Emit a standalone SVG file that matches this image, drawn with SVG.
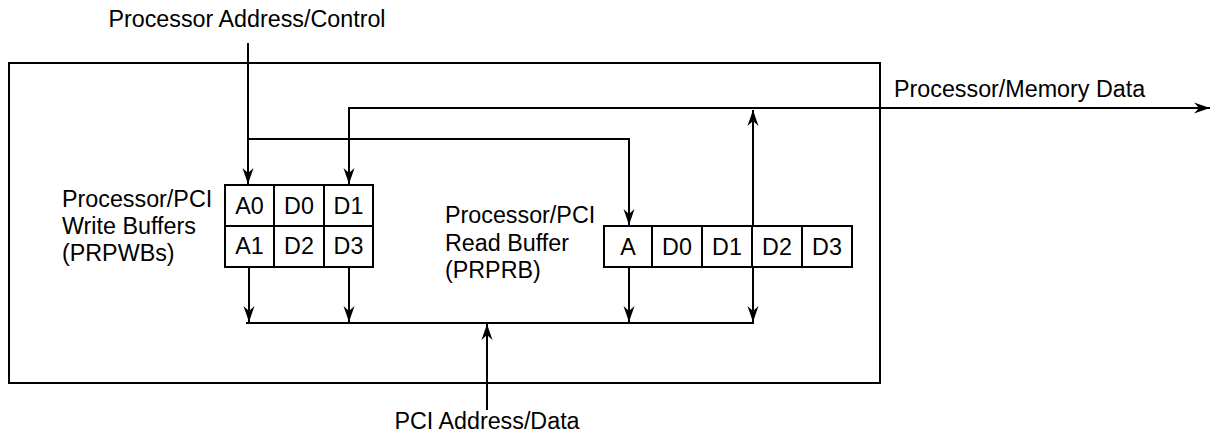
<svg xmlns="http://www.w3.org/2000/svg" width="1211" height="433" viewBox="0 0 1211 433">
<style>
text{font-family:"Liberation Sans",Arial,sans-serif;font-size:23.3px;fill:#000}
.c{text-anchor:middle}
.box{fill:#fff;stroke:#000;stroke-width:2}
.frame{fill:none;stroke:#000;stroke-width:2}
.ln{fill:none;stroke:#000;stroke-width:2}
</style>
<defs>
<marker id="ah" markerUnits="userSpaceOnUse" markerWidth="20" markerHeight="14" viewBox="-18 -7 20 14" refX="0" refY="0" orient="auto-start-reverse">
<path d="M0,0 L-16,-5.5 L-11,0 L-16,5.5 Z" fill="#000"/>
</marker>
</defs>
<rect id="outer" x="9" y="63" width="871" height="320" class="frame"/>
<g id="connectors">
<path class="ln" d="M248,43 V184" marker-end="url(#ah)"/>
<path class="ln" d="M247,139 H629 V225" marker-end="url(#ah)"/>
<path class="ln" d="M349,108 V184" marker-end="url(#ah)"/>
<path class="ln" d="M348,108 H1210" marker-end="url(#ah)"/>
<path class="ln" d="M249,267 V322" marker-end="url(#ah)"/>
<path class="ln" d="M349,267 V322" marker-end="url(#ah)"/>
<path class="ln" d="M629,267 V322" marker-end="url(#ah)"/>
<path class="ln" d="M753,110 V322" marker-start="url(#ah)" marker-end="url(#ah)"/>
<path class="ln" d="M246,323 H754"/>
<path class="ln" d="M487,410 V324" marker-end="url(#ah)"/>
</g>
<g id="write-buffers">
<rect class="box" x="225" y="185" width="49" height="41"/>
<rect class="box" x="274" y="185" width="50" height="41"/>
<rect class="box" x="324" y="185" width="49" height="41"/>
<rect class="box" x="225" y="226" width="49" height="41"/>
<rect class="box" x="274" y="226" width="50" height="41"/>
<rect class="box" x="324" y="226" width="49" height="41"/>
<text class="c" x="249.5" y="214">A0</text>
<text class="c" x="299" y="214">D0</text>
<text class="c" x="348.5" y="214">D1</text>
<text class="c" x="249.5" y="254">A1</text>
<text class="c" x="299" y="254">D2</text>
<text class="c" x="348.5" y="254">D3</text>
</g>
<g id="write-label">
<text x="62" y="207">Processor/PCI</text>
<text x="62" y="234">Write Buffers</text>
<text x="62" y="261">(PRPWBs)</text>
</g>
<g id="read-buffer">
<rect class="box" x="604" y="226" width="48" height="41"/>
<rect class="box" x="652" y="226" width="50" height="41"/>
<rect class="box" x="702" y="226" width="50" height="41"/>
<rect class="box" x="752" y="226" width="50" height="41"/>
<rect class="box" x="802" y="226" width="50" height="41"/>
<text class="c" x="628" y="255">A</text>
<text class="c" x="677" y="255">D0</text>
<text class="c" x="727" y="255">D1</text>
<text class="c" x="777" y="255">D2</text>
<text class="c" x="827" y="255">D3</text>
</g>
<g id="read-label">
<text x="445" y="223">Processor/PCI</text>
<text x="445" y="251">Read Buffer</text>
<text x="445" y="278">(PRPRB)</text>
</g>
<g id="labels">
<text class="c" x="247" y="27">Processor Address/Control</text>
<text x="894" y="97">Processor/Memory Data</text>
<text class="c" x="487" y="429">PCI Address/Data</text>
</g>
</svg>
